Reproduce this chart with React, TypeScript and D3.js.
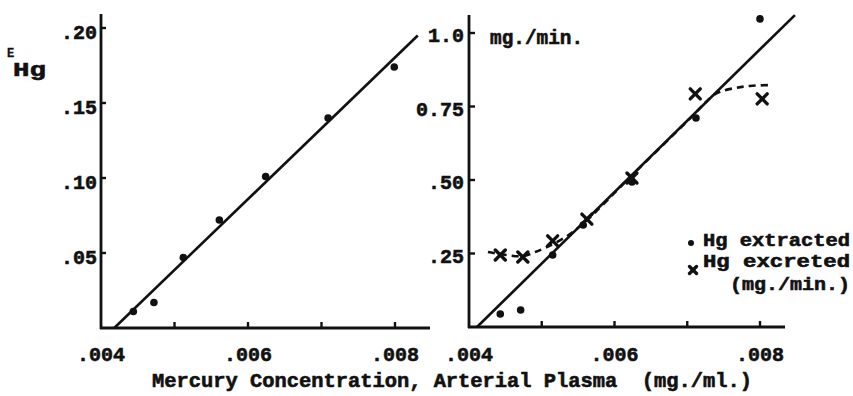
import React from 'react';
import * as d3 from 'd3';

// left panel: E_Hg vs arterial plasma mercury
const leftConc = [0.00444, 0.00472, 0.00512, 0.00561, 0.00624, 0.00709, 0.00799];
const leftE = [0.011, 0.017, 0.047, 0.072, 0.101, 0.14, 0.174];
const leftFit = [[0.00418, 0], [0.00831, 0.195]];

// right panel: mg./min.
const extractedConc = [0.00443, 0.00471, 0.00515, 0.00557, 0.00624, 0.00712, 0.008];
const extractedVal = [0.044, 0.058, 0.245, 0.347, 0.493, 0.711, 1.048];
const excretedConc = [0.00443, 0.00474, 0.00515, 0.00562, 0.00624, 0.00711, 0.00803];
const excretedVal = [0.245, 0.238, 0.293, 0.367, 0.507, 0.793, 0.776];
const rightFit = [[0.00411, 0], [0.00848, 1.061]];
const excretedCurve = [
  [0.00426, 0.255], [0.00443, 0.248], [0.00474, 0.241], [0.00491, 0.255],
  [0.00507, 0.272], [0.00532, 0.305], [0.00557, 0.352], [0.00624, 0.516],
  [0.00704, 0.71], [0.00734, 0.784], [0.00745, 0.8], [0.00766, 0.813],
  [0.00786, 0.82], [0.00816, 0.823],
];

const xTicks = [0.005, 0.006, 0.007, 0.008];
const xTickLabels = [0.004, 0.006, 0.008];
const leftYTicks = [0.05, 0.1, 0.15, 0.2];
const leftYLabels = ['.05', '.10', '.15', '.20'];
const rightYTicks = [0.25, 0.5, 0.75, 1.0];
const rightYLabels = ['.25', '.50', '0.75', '1.0'];

const ink = '#111';
const font = "'Liberation Mono', 'DejaVu Sans Mono', monospace";

const fmtX = (v: number) => '.' + d3.format('03d')(Math.round(v * 1000));

export default function App() {
  const lx = d3.scaleLinear().domain([0.004, 0.008]).range([101, 395]);
  const ly = d3.scaleLinear().domain([0, 0.2]).range([328, 28]);
  const rx = d3.scaleLinear().domain([0.004, 0.008]).range([469, 760]);
  const ry = d3.scaleLinear().domain([0, 1]).range([327, 33]);

  const lineL = d3.line<number[]>().x(d => lx(d[0])).y(d => ly(d[1]));
  const lineR = d3.line<number[]>().x(d => rx(d[0])).y(d => ry(d[1]));
  const curveR = d3.line<number[]>().x(d => rx(d[0])).y(d => ry(d[1])).curve(d3.curveCatmullRom);

  const cross = (cx: number, cy: number, key: string, s = 5) => (
    <g key={key} stroke={ink} strokeWidth={3.4} strokeLinecap="round">
      <line x1={cx - s} y1={cy - s} x2={cx + s} y2={cy + s} />
      <line x1={cx - s} y1={cy + s} x2={cx + s} y2={cy - s} />
    </g>
  );

  // heavy typewriter look: bold mono with a thin outline
  const textStyle = {
    fontFamily: font, fontWeight: 'bold' as const, fontSize: 20, fill: ink,
    stroke: ink, strokeWidth: 0.6,
  };

  return (
    <svg width={853} height={396} style={{ position: 'absolute', left: 0, top: 0, background: '#fff' }}>
      {/* ---- left panel ---- */}
      <g>
        <line x1={lx(0.004)} y1={14} x2={lx(0.004)} y2={ly(0) + 1} stroke={ink} strokeWidth={2.8} />
        <line x1={lx(0.004) - 1} y1={ly(0)} x2={430} y2={ly(0)} stroke={ink} strokeWidth={2.8} />
        {xTicks.map(t => (
          <line key={t} x1={lx(t)} x2={lx(t)} y1={ly(0)} y2={ly(0) - 6} stroke={ink} strokeWidth={2.4} />
        ))}
        {leftYTicks.map(t => (
          <line key={t} x1={lx(0.004)} x2={lx(0.004) + 5} y1={ly(t)} y2={ly(t)} stroke={ink} strokeWidth={2.4} />
        ))}
        {xTickLabels.map(t => (
          <text key={t} x={lx(t)} y={361} textAnchor="middle" {...textStyle}>{fmtX(t)}</text>
        ))}
        {leftYTicks.map((t, i) => (
          <text key={t} x={lx(0.004) - 4} y={ly(t) + 11} textAnchor="end" {...textStyle}>{leftYLabels[i]}</text>
        ))}
        <text x={7} y={57} {...textStyle} fontSize={12} strokeWidth={0.3}>E</text>
        <text x={13} y={76} {...textStyle} fontSize={21} textLength={33} lengthAdjust="spacingAndGlyphs">Hg</text>
        <path d={lineL(leftFit) || ''} stroke={ink} strokeWidth={2.6} fill="none" />
        {leftConc.map((c, i) => (
          <circle key={i} cx={lx(c)} cy={ly(leftE[i])} r={3.8} fill={ink} />
        ))}
      </g>

      {/* ---- right panel ---- */}
      <g>
        <line x1={rx(0.004)} y1={15} x2={rx(0.004)} y2={ry(0) + 1} stroke={ink} strokeWidth={2.8} />
        <line x1={rx(0.004) - 1} y1={ry(0)} x2={785} y2={ry(0)} stroke={ink} strokeWidth={2.8} />
        {xTicks.map(t => (
          <line key={t} x1={rx(t)} x2={rx(t)} y1={ry(0)} y2={ry(0) - 6} stroke={ink} strokeWidth={2.4} />
        ))}
        {rightYTicks.map(t => (
          <line key={t} x1={rx(0.004)} x2={rx(0.004) + 6} y1={ry(t)} y2={ry(t)} stroke={ink} strokeWidth={2.4} />
        ))}
        {xTickLabels.map(t => (
          <text key={t} x={rx(t)} y={361} textAnchor="middle" {...textStyle}>{fmtX(t)}</text>
        ))}
        {rightYTicks.map((t, i) => (
          <text key={t} x={rx(0.004) - 5} y={ry(t) + 9} textAnchor="end" {...textStyle}>{rightYLabels[i]}</text>
        ))}
        <text x={490} y={44} {...textStyle} textLength={93} lengthAdjust="spacingAndGlyphs">mg./min.</text>

        <path d={lineR(rightFit) || ''} stroke={ink} strokeWidth={2.6} fill="none" />
        <path d={curveR(excretedCurve) || ''} stroke={ink} strokeWidth={2.6} fill="none" strokeDasharray="7 5" />
        {extractedConc.map((c, i) => (
          <circle key={i} cx={rx(c)} cy={ry(extractedVal[i])} r={3.8} fill={ink} />
        ))}
        {excretedConc.map((c, i) => cross(rx(c), ry(excretedVal[i]), 'x' + i))}

        {/* legend */}
        <circle cx={691} cy={243} r={3} fill={ink} />
        <text x={703} y={246} {...textStyle} fontSize={18} textLength={147} lengthAdjust="spacingAndGlyphs">Hg extracted</text>
        {cross(693, 270, 'legx', 3.5)}
        <text x={703} y={267} {...textStyle} fontSize={18} textLength={147} lengthAdjust="spacingAndGlyphs">Hg excreted</text>
        <text x={730} y={290} {...textStyle} fontSize={18} textLength={120} lengthAdjust="spacingAndGlyphs">(mg./min.)</text>
      </g>

      <text x={152} y={387} {...textStyle} textLength={600} lengthAdjust="spacingAndGlyphs" xmlSpace="preserve">
        Mercury Concentration, Arterial Plasma  (mg./ml.)
      </text>
    </svg>
  );
}
